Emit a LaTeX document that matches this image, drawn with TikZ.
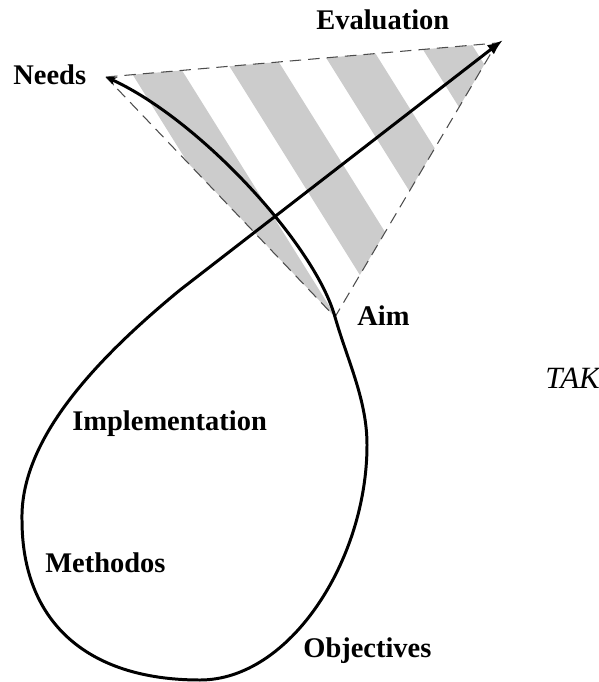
\documentclass[tikz,border=0pt]{standalone}
\usepackage{fontspec}
\setmainfont{Liberation Serif}
\usetikzlibrary{positioning,arrows.meta}

\begin{document}
\begin{tikzpicture}[x=0.02cm, y=-0.02cm,
	lbl/.style = {font=\fontsize{16.2}{19}\selectfont\bfseries, anchor=base west, inner sep=0pt},
	stripe/.style = {fill=black!20},
	tri/.style = {draw=black!70, line width=0.6pt, dash pattern=on 6.5pt off 4pt},
	loop/.style = {line width=1.7pt, line cap=round,
		arrows={Stealth[length=6pt,width=5pt]-Latex[length=9pt,width=6.5pt]}}]

\useasboundingbox (0, 0) rectangle (598, 682);

\coordinate (N) at (106, 77);
\coordinate (E) at (497, 43);
\coordinate (A) at (335, 317);
\coordinate (tip) at (503, 40);

% grey bands inside the triangle
\begin{scope}
\clip (N) -- (E) -- (A) -- cycle;
\foreach \x in {86, 188, ..., 400}
	\fill[stripe] (\x, 0) -- ++(52, 0) -- ++(250, 400) -- ++(-52, 0) -- cycle;
\end{scope}

\draw[tri] (N) -- (E) -- (A) -- cycle;

\draw[loop] (N) .. controls (200, 120) and (315, 245) .. (A)
	.. controls (348, 362) and (367, 400) .. (367, 445)
	.. controls (367, 560) and (290, 680) .. (200, 680)
	.. controls (85, 680) and (22, 620) .. (22, 520)
	.. controls (20, 440) and (95, 360) .. (180, 290)
	-- (tip);

\node[lbl] (needs) at (13, 85) {Needs};
\node[lbl] (eval) at (316, 30) {Evaluation};
\node[lbl] (aim) at (357, 325) {Aim};
\node[lbl] (impl) at (72, 430) {Implementation};
\node[lbl] (meth) at (45, 572) {Methodos};
\node[lbl] (obj) at (303, 657) {Objectives};
\node[lbl, font=\fontsize{17.6}{20}\selectfont\itshape] (tak) at (545, 388) {TAK};

\end{tikzpicture}
\end{document}
